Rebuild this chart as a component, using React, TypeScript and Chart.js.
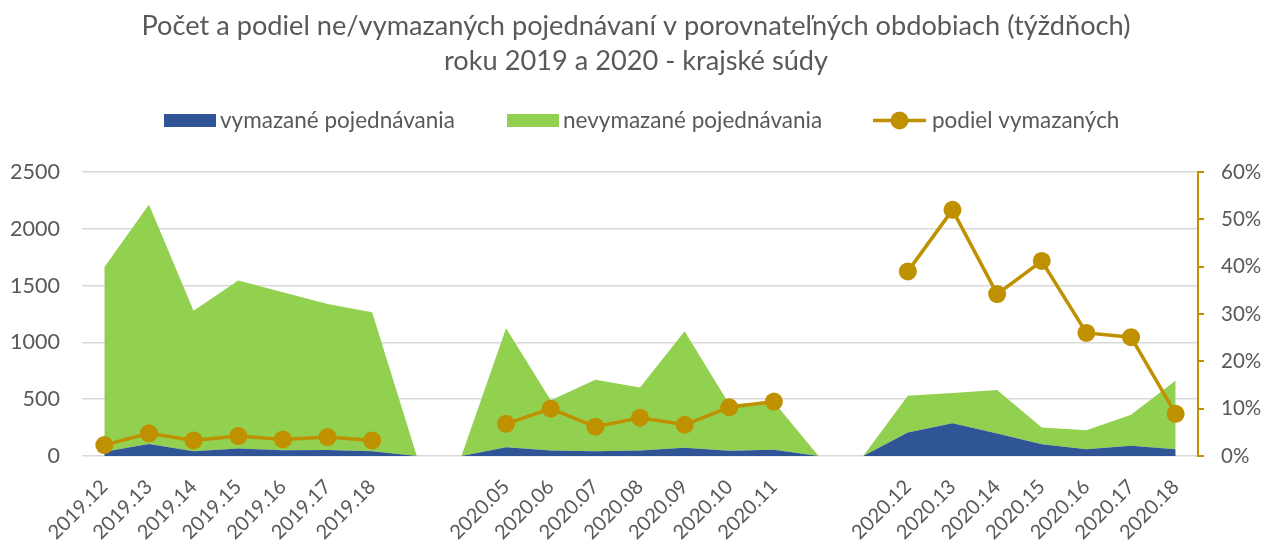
import React, { useEffect, useRef } from 'react';
import { Chart, registerables } from 'chart.js';

Chart.register(...registerables);

const categories = [
  '2019.12', '2019.13', '2019.14', '2019.15', '2019.16', '2019.17', '2019.18',
  '', '',
  '2020.05', '2020.06', '2020.07', '2020.08', '2020.09', '2020.10', '2020.11',
  '', '',
  '2020.12', '2020.13', '2020.14', '2020.15', '2020.16', '2020.17', '2020.18',
];

// vymazané pojednávania (count)
const deletedCounts = [
  38, 106, 42, 65, 50, 53, 42,
  0, 0,
  76, 49, 42, 49, 72, 47, 56,
  0, 0,
  207, 289, 199, 103, 59, 91, 59,
];

// nevymazané pojednávania (count)
const keptCounts = [
  1624, 2108, 1236, 1479, 1391, 1284, 1224,
  0, 0,
  1048, 441, 629, 553, 1026, 408, 419,
  0, 0,
  324, 266, 383, 148, 168, 272, 605,
];

// podiel vymazaných (%)
const deletedShare: (number | null)[] = [
  2.3, 4.8, 3.3, 4.2, 3.5, 4.0, 3.3,
  null, null,
  6.8, 10.0, 6.2, 8.1, 6.6, 10.3, 11.5,
  null, null,
  39.0, 52.0, 34.2, 41.2, 26.0, 25.1, 8.9,
];

const titleLines = [
  'Počet a podiel ne/vymazaných pojednávaní v porovnateľných obdobiach (týždňoch)',
  'roku 2019 a 2020 - krajské súdy',
];
const legendLabels = ['vymazané pojednávania', 'nevymazané pojednávania', 'podiel vymazaných'];

const BLUE = '#2F5597';
const GREEN = '#92D050';
const GOLD = '#BF9000';
const TEXT = '#595959';
const GRID = '#D9D9D9';
const FONT = 'Lato';

const headerPlugin = {
  id: 'headerLegend',
  afterDraw(chart: any) {
    const ctx = chart.ctx as CanvasRenderingContext2D;
    ctx.save();
    ctx.fillStyle = TEXT;
    ctx.textAlign = 'center';
    ctx.textBaseline = 'alphabetic';
    ctx.font = `27.2px ${FONT}`;
    ctx.fillText(titleLines[0], 636, 35);
    ctx.fillText(titleLines[1], 636, 70);

    const ly = 120.5;
    ctx.font = `22.5px ${FONT}`;
    ctx.textAlign = 'left';
    ctx.textBaseline = 'middle';
    // item 1
    ctx.fillStyle = BLUE;
    ctx.fillRect(164, ly - 6.5, 52, 13);
    ctx.fillStyle = TEXT;
    ctx.fillText(legendLabels[0], 220, ly);
    // item 2
    ctx.fillStyle = GREEN;
    ctx.fillRect(507, ly - 6.5, 52, 13);
    ctx.fillStyle = TEXT;
    ctx.fillText(legendLabels[1], 563, ly);
    // item 3
    ctx.strokeStyle = GOLD;
    ctx.lineWidth = 3.5;
    ctx.beginPath();
    ctx.moveTo(873, ly);
    ctx.lineTo(926, ly);
    ctx.stroke();
    ctx.fillStyle = GOLD;
    ctx.beginPath();
    ctx.arc(899.5, ly, 9, 0, Math.PI * 2);
    ctx.fill();
    ctx.fillStyle = TEXT;
    ctx.fillText(legendLabels[2], 932, ly);
    ctx.restore();
  },
};

export default function App() {
  const canvasRef = useRef<HTMLCanvasElement | null>(null);

  useEffect(() => {
    document.body.style.margin = '0';
    document.body.style.overflow = 'hidden';
    const canvas = canvasRef.current;
    if (!canvas) return;

    const chart = new Chart(canvas, {
      type: 'line',
      data: {
        labels: categories,
        datasets: [
          {
            label: legendLabels[0],
            data: deletedCounts,
            yAxisID: 'y',
            backgroundColor: BLUE,
            borderColor: BLUE,
            borderWidth: 0,
            pointRadius: 0,
            fill: 'origin',
            tension: 0,
            order: 1,
          },
          {
            label: legendLabels[1],
            data: keptCounts,
            yAxisID: 'y',
            backgroundColor: GREEN,
            borderColor: GREEN,
            borderWidth: 0,
            pointRadius: 0,
            fill: '-1',
            tension: 0,
            order: 1,
          },
          {
            label: legendLabels[2],
            data: deletedShare,
            yAxisID: 'y1',
            borderColor: GOLD,
            backgroundColor: GOLD,
            borderWidth: 3.5,
            pointRadius: 9,
            pointHoverRadius: 9,
            pointBackgroundColor: GOLD,
            pointBorderWidth: 0,
            fill: false,
            spanGaps: false,
            tension: 0,
            order: 0,
          },
        ],
      },
      options: {
        responsive: false,
        animation: false,
        events: [],
        layout: { padding: { top: 172, left: 0, right: 0, bottom: 0 } },
        plugins: {
          legend: { display: false },
          title: { display: false },
          tooltip: { enabled: false },
        },
        scales: {
          x: {
            offset: true,
            grid: { display: false, drawTicks: false },
            border: { display: false },
            ticks: {
              autoSkip: false,
              minRotation: 45,
              maxRotation: 45,
              color: TEXT,
              padding: 19,
              font: { family: FONT, size: 20 },
            },
            afterFit: (scale: any) => {
              scale.height = 84;
            },
          },
          y: {
            position: 'left',
            stacked: true,
            min: 0,
            max: 2500,
            ticks: {
              stepSize: 500,
              color: TEXT,
              padding: 22,
              font: { family: FONT, size: 21.5 },
              callback: (v: any) => String(v),
            },
            grid: { color: GRID, lineWidth: 1.5, drawTicks: false },
            border: { display: false },
            afterFit: (scale: any) => {
              scale.width = 82;
            },
          },
          y1: {
            position: 'right',
            min: 0,
            max: 60,
            ticks: {
              stepSize: 10,
              color: TEXT,
              padding: 17,
              font: { family: FONT, size: 20.5 },
              callback: (v: any) => `${v}%`,
            },
            grid: {
              drawOnChartArea: false,
              drawTicks: true,
              tickLength: 6,
              color: GOLD,
              lineWidth: 2,
            },
            border: { display: true, color: GOLD, width: 2 },
            afterFit: (scale: any) => {
              scale.width = 67;
            },
          },
        },
      },
      plugins: [headerPlugin],
    } as any);

    if ((document as any).fonts && (document as any).fonts.ready) {
      (document as any).fonts.ready.then(() => chart.update());
    }

    return () => {
      chart.destroy();
    };
  }, []);

  return (
    <div style={{ position: 'absolute', left: 0, top: 0, width: 1265, height: 540 }}>
      <canvas ref={canvasRef} width={1265} height={540} style={{ display: 'block' }} />
    </div>
  );
}
